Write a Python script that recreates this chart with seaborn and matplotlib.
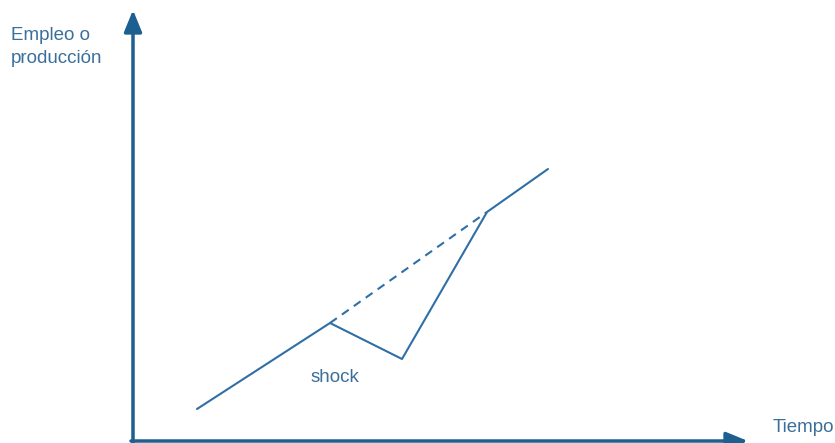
import numpy as np
import pandas as pd
import seaborn as sns
import matplotlib.pyplot as plt

sns.set_theme(style="white")
plt.rcParams['font.family'] = ['Liberation Sans Narrow', 'Liberation Sans', 'DejaVu Sans']

# path of employment/output over time (arbitrary units)
tiempo = [64, 197, 269, 354, 415]
produccion = [32, 118, 82, 229, 272]

# trend that would have held without the shock
tendencia_t = [197, 354]
tendencia_y = [118, 229]

linea = pd.DataFrame({'tiempo': tiempo, 'produccion': produccion})
trend = pd.DataFrame({'tiempo': tendencia_t, 'produccion': tendencia_y})

color_linea = '#2f6fa6'
color_eje = '#1d5f8f'
color_texto = '#3a6f9c'

fig = plt.figure(figsize=(8.35, 4.43), dpi=100)
ax = fig.add_axes([0, 0, 1, 1])
ax.set_xlim(-133, 702)
ax.set_ylim(-2, 441)
ax.axis('off')

sns.lineplot(data=linea, x='tiempo', y='produccion', sort=False, color=color_linea,
             lw=1.5, ax=ax)
sns.lineplot(data=trend, x='tiempo', y='produccion', sort=False, color=color_linea,
             lw=1.5, ls=(0, (4, 3)), ax=ax)

# axes with arrow heads
ax.annotate('', xy=(0, 431), xytext=(0, -3),
            arrowprops=dict(arrowstyle='-|>,head_length=1.1,head_width=0.45',
                            color=color_eje, lw=2.5, shrinkA=0, shrinkB=0))
ax.annotate('', xy=(615, 0), xytext=(-2, 0),
            arrowprops=dict(arrowstyle='-|>,head_length=1.1,head_width=0.45',
                            color=color_eje, lw=2.5, shrinkA=0, shrinkB=0))

ax.text(-122, 414, 'Empleo o\nproducción', fontsize=13.5, color=color_texto,
        va='top', ha='left', linespacing=1.45)
ax.text(640, 14, 'Tiempo', fontsize=13.5, color=color_texto, va='center', ha='left')
ax.text(202, 63, 'shock', fontsize=13.5, color=color_texto, va='center', ha='center')

fig.savefig('out.png', dpi=100)
